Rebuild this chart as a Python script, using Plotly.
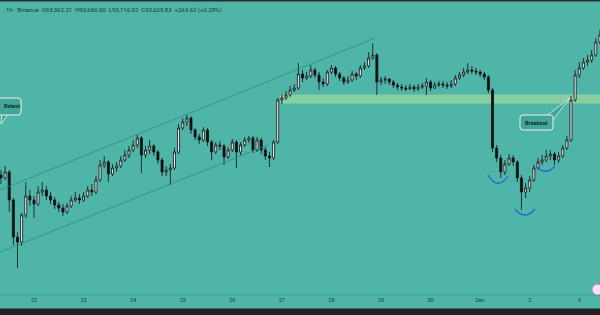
import pandas as pd
import plotly.graph_objects as go

# ---- data (2-hour candles, BTC/USDT, starting 21 Nov 2025 08:00) ----
start_time = "2025-11-21 08:00"
first_open = 85785
closes = [85617, 85953, 84385, 82313, 82033, 83545, 84609, 84385, 84161, 84833,
          84945, 84609, 84385, 84105, 83937, 83713, 84049, 84385, 84497, 84385,
          84609, 84945, 84833, 85505, 86345, 86513, 85841, 86177, 86289, 86625,
          86905, 87185, 87465, 87857, 86905, 87185, 87409, 87073, 86625, 85953,
          86065, 86177, 87073, 88417, 88753, 88977, 88305, 87913, 87745, 88305,
          87633, 87073, 87465, 87409, 86793, 87185, 87633, 87073, 87465, 87745,
          87857, 87185, 87745, 87185, 86849, 86737, 87633, 89985, 90097, 90265,
          90545, 90657, 91441, 91217, 91329, 91665, 91385, 90993, 90881, 91553,
          91777, 91441, 91217, 90993, 91105, 91441, 91329, 91777, 91889, 92337,
          92505, 90993, 91105, 91161, 90993, 90825, 90713, 90657, 90601, 90713,
          90601, 90713, 90769, 90993, 90657, 90825, 90881, 90825, 90769, 90881,
          91217, 91385, 91553, 91665, 91609, 91553, 91441, 91273, 90545, 87297,
          86737, 85953, 86401, 86737, 86513, 85617, 84833, 85057, 85505, 86177,
          86513, 86625, 86849, 86961, 86625, 86849, 87297, 87745, 89985, 91385,
          91777, 92113, 92225, 92505, 93233, 93625]
highs = [86065, 86289, 86065, 84497, 82593, 83657, 85393, 84945, 84609, 85169,
         85393, 85169, 84833, 84553, 84273, 84161, 84217, 84609, 84833, 84721,
         84833, 85169, 85281, 85729, 86625, 86849, 86625, 86401, 86513, 86849,
         87185, 87409, 87745, 88025, 87969, 87409, 87745, 87521, 87185, 86737,
         86289, 86401, 87297, 88641, 88977, 89145, 89089, 88417, 88081, 88473,
         88417, 87745, 87633, 87689, 87521, 87353, 87801, 87745, 87633, 87913,
         87969, 87969, 87913, 87857, 87353, 87073, 87745, 90097, 90321, 90489,
         90769, 90881, 92057, 91665, 91553, 91945, 91777, 91553, 91217, 91665,
         91945, 91889, 91553, 91329, 91329, 91609, 91553, 91945, 92113, 92673,
         93177, 92617, 91273, 91329, 91217, 91105, 90937, 90881, 90825, 90881,
         90825, 90881, 90937, 91217, 91105, 90993, 91049, 91049, 90993, 91105,
         91385, 91553, 91777, 92057, 91889, 91777, 91665, 91553, 91385, 90657,
         87465, 86905, 86625, 86961, 86905, 86625, 85785, 85337, 85729, 86345,
         86737, 86905, 87185, 87185, 87073, 87073, 87465, 87969, 90209, 91665,
         92113, 92337, 92505, 92785, 93457, 93905]
lows = [85281, 85505, 83713, 81865, 80577, 81809, 83377, 84049, 83377, 84049,
        84609, 84385, 84161, 83881, 83713, 83489, 83601, 83937, 84273, 84161,
        84273, 84497, 84609, 84721, 85393, 86177, 85393, 85729, 85953, 86177,
        86513, 86737, 87073, 87297, 85897, 86737, 86961, 86849, 86401, 85729,
        85729, 85225, 86065, 86961, 88305, 88529, 88081, 87745, 87521, 87633,
        87409, 86625, 86961, 87185, 86345, 86681, 87073, 86177, 86905, 87353,
        87577, 87017, 87073, 86961, 86625, 86233, 86625, 87521, 89761, 89985,
        90153, 90433, 90545, 90993, 91105, 91217, 91217, 90545, 90713, 90769,
        91441, 91273, 91049, 90825, 90881, 90993, 91105, 91217, 91665, 91777,
        92225, 90265, 90825, 90881, 90825, 90657, 90545, 90489, 90489, 90545,
        90433, 90489, 90601, 90265, 90489, 90601, 90713, 90657, 90601, 90657,
        90769, 91105, 91273, 91441, 91441, 91385, 91273, 91105, 90377, 87073,
        86513, 85617, 85785, 86289, 86289, 85393, 83825, 84497, 84833, 85393,
        86065, 86345, 86513, 86625, 86345, 86457, 86737, 87185, 87633, 89873,
        91217, 91665, 91889, 92057, 92393, 93121]
day_ticks = ["2025-11-22", "2025-11-23", "2025-11-24", "2025-11-25", "2025-11-26",
             "2025-11-27", "2025-11-28", "2025-11-29", "2025-11-30", "2025-12-01",
             "2025-12-02", "2025-12-03"]
day_labels = ["22", "23", "24", "25", "26", "27", "28", "29", "30", "Dec", "2", "3"]
header = "· 1h · Binance  O93,362.21  H93,660.00  L93,116.02  C93,625.83  +263.62 (+0.28%)"

opens = [first_open] + closes[:-1]
times = pd.date_range(start_time, periods=len(closes), freq="2h")

BG = "#50b5a9"
W, H = 600, 315
PLOT_H = 295


def px(x, y):
    """pixel -> paper coords"""
    return x / W, 1 - y / PLOT_H


def rrect(x0, y0, x1, y1, r=3):
    def p(x, y):
        a, b = px(x, y)
        return f"{a:.5f},{b:.5f}"
    return (f"M{p(x0 + r, y0)} L{p(x1 - r, y0)} Q{p(x1, y0)} {p(x1, y0 + r)} "
            f"L{p(x1, y1 - r)} Q{p(x1, y1)} {p(x1 - r, y1)} L{p(x0 + r, y1)} "
            f"Q{p(x0, y1)} {p(x0, y1 - r)} L{p(x0, y0 + r)} Q{p(x0, y0)} {p(x0 + r, y0)} Z")


def poly(points):
    s = []
    for i, (x, y) in enumerate(points):
        a, b = px(x, y)
        s.append(("M" if i == 0 else "L") + f"{a:.5f},{b:.5f}")
    return " ".join(s) + " Z"


def arc(x0, y0, cx, cy, x1, y1):
    a0, b0 = px(x0, y0)
    ac, bc = px(cx, cy)
    a1, b1 = px(x1, y1)
    return f"M{a0:.5f},{b0:.5f} Q{ac:.5f},{bc:.5f} {a1:.5f},{b1:.5f}"


fig = go.Figure(go.Candlestick(
    x=times, open=opens, high=highs, low=lows, close=closes,
    increasing=dict(fillcolor="#f2f2f2", line=dict(color="#111111", width=0.8)),
    decreasing=dict(fillcolor="#111111", line=dict(color="#111111", width=0.8)),
    showlegend=False, hoverinfo="skip",
))

shapes = []
# support/resistance band
shapes.append(dict(type="rect", xref="x", yref="y", x0="2025-11-26 23:07", x1="2025-12-03 14:00",
                   y0=89790, y1=90290, fillcolor="#93d6a0", opacity=0.8,
                   line=dict(width=0), layer="below"))
# ascending channel
shapes.append(dict(type="line", xref="x", yref="y", x0="2025-11-21 07:32", y0=84945,
                   x1="2025-11-28 21:06", y1=93457, line=dict(color="#2d8a80", width=0.8)))
shapes.append(dict(type="line", xref="x", yref="y", x0="2025-11-21 07:32", y0=81473,
                   x1="2025-11-26 17:17", y1=87465, line=dict(color="#2d8a80", width=0.8)))
# blue arcs
for a in [arc(488, 175, 498, 191, 508, 176), arc(515, 209, 525, 221, 535, 209),
          arc(537, 167, 546, 176, 555, 166)]:
    shapes.append(dict(type="path", xref="paper", yref="paper", path=a,
                       line=dict(color="#2f5fe0", width=1.3)))
BOX_FILL = "#44a69b"
BOX_LINE = "#e4f4f1"
# breakout callout
shapes.append(dict(type="path", xref="paper", yref="paper",
                   path=poly([(545, 117), (553, 120), (570, 98)]),
                   fillcolor=BOX_FILL, line=dict(color=BOX_LINE, width=0.8)))
shapes.append(dict(type="path", xref="paper", yref="paper", path=rrect(520, 115, 553, 130),
                   fillcolor=BOX_FILL, line=dict(color=BOX_LINE, width=1)))
# retest callout
shapes.append(dict(type="path", xref="paper", yref="paper",
                   path=poly([(2, 113), (9, 113), (1, 124)]),
                   fillcolor=BOX_FILL, line=dict(color=BOX_LINE, width=0.8)))
shapes.append(dict(type="path", xref="paper", yref="paper", path=rrect(-12, 98, 21, 115),
                   fillcolor=BOX_FILL, line=dict(color=BOX_LINE, width=1)))
# top dark strip, axis line, bottom band, logo circle
shapes.append(dict(type="rect", xref="paper", yref="paper", x0=0, x1=1, y0=px(0, 1.5)[1], y1=1,
                   fillcolor="#2a2e2d", line=dict(width=0)))
shapes.append(dict(type="line", xref="paper", yref="paper", x0=0, x1=1, y0=0, y1=0,
                   line=dict(color="#3f9c92", width=1)))
shapes.append(dict(type="rect", xref="paper", yref="paper", x0=0, x1=1,
                   y0=px(0, 315)[1], y1=px(0, 308.5)[1],
                   fillcolor="#1f2120", line=dict(width=0)))
cx0, cy0 = px(592, 284)
cx1, cy1 = px(603, 295)
shapes.append(dict(type="circle", xref="paper", yref="paper", x0=cx0, x1=cx1, y0=cy1, y1=cy0,
                   fillcolor="#f3e6f3", line=dict(color="#b07ab8", width=1)))

annotations = [
    dict(text=header, xref="paper", yref="paper", x=px(1, 0)[0], y=px(0, 10)[1],
         xanchor="left", yanchor="middle", showarrow=False,
         font=dict(family="Roboto", size=6, color="#1a3531")),
    dict(text="<b>Breakout</b>", xref="paper", yref="paper", x=px(536.5, 0)[0], y=px(0, 122.5)[1],
         xanchor="center", yanchor="middle", showarrow=False,
         font=dict(family="Roboto", size=5.5, color="#0e2c29")),
    dict(text="<b>Retest</b>", xref="paper", yref="paper", x=px(1.5, 0)[0], y=px(0, 106.5)[1],
         xanchor="left", yanchor="middle", showarrow=False,
         font=dict(family="Roboto", size=5.5, color="#0e2c29")),
]

fig.update_layout(
    width=W, height=H,
    margin=dict(l=0, r=0, t=0, b=H - PLOT_H, pad=0),
    paper_bgcolor=BG, plot_bgcolor=BG,
    shapes=shapes, annotations=annotations,
    xaxis=dict(type="date", range=["2025-11-21 07:32", "2025-12-03 10:02"],
               rangeslider=dict(visible=False), showgrid=False, zeroline=False,
               tickmode="array", tickvals=day_ticks, ticktext=day_labels,
               ticks="", tickfont=dict(family="Roboto", size=5.5, color="#1d3b37"),
               showline=False),
    yaxis=dict(range=[79065, 95585], showgrid=False, zeroline=False,
               showticklabels=False, showline=False, fixedrange=True),
)

fig.write_html("out.html")
